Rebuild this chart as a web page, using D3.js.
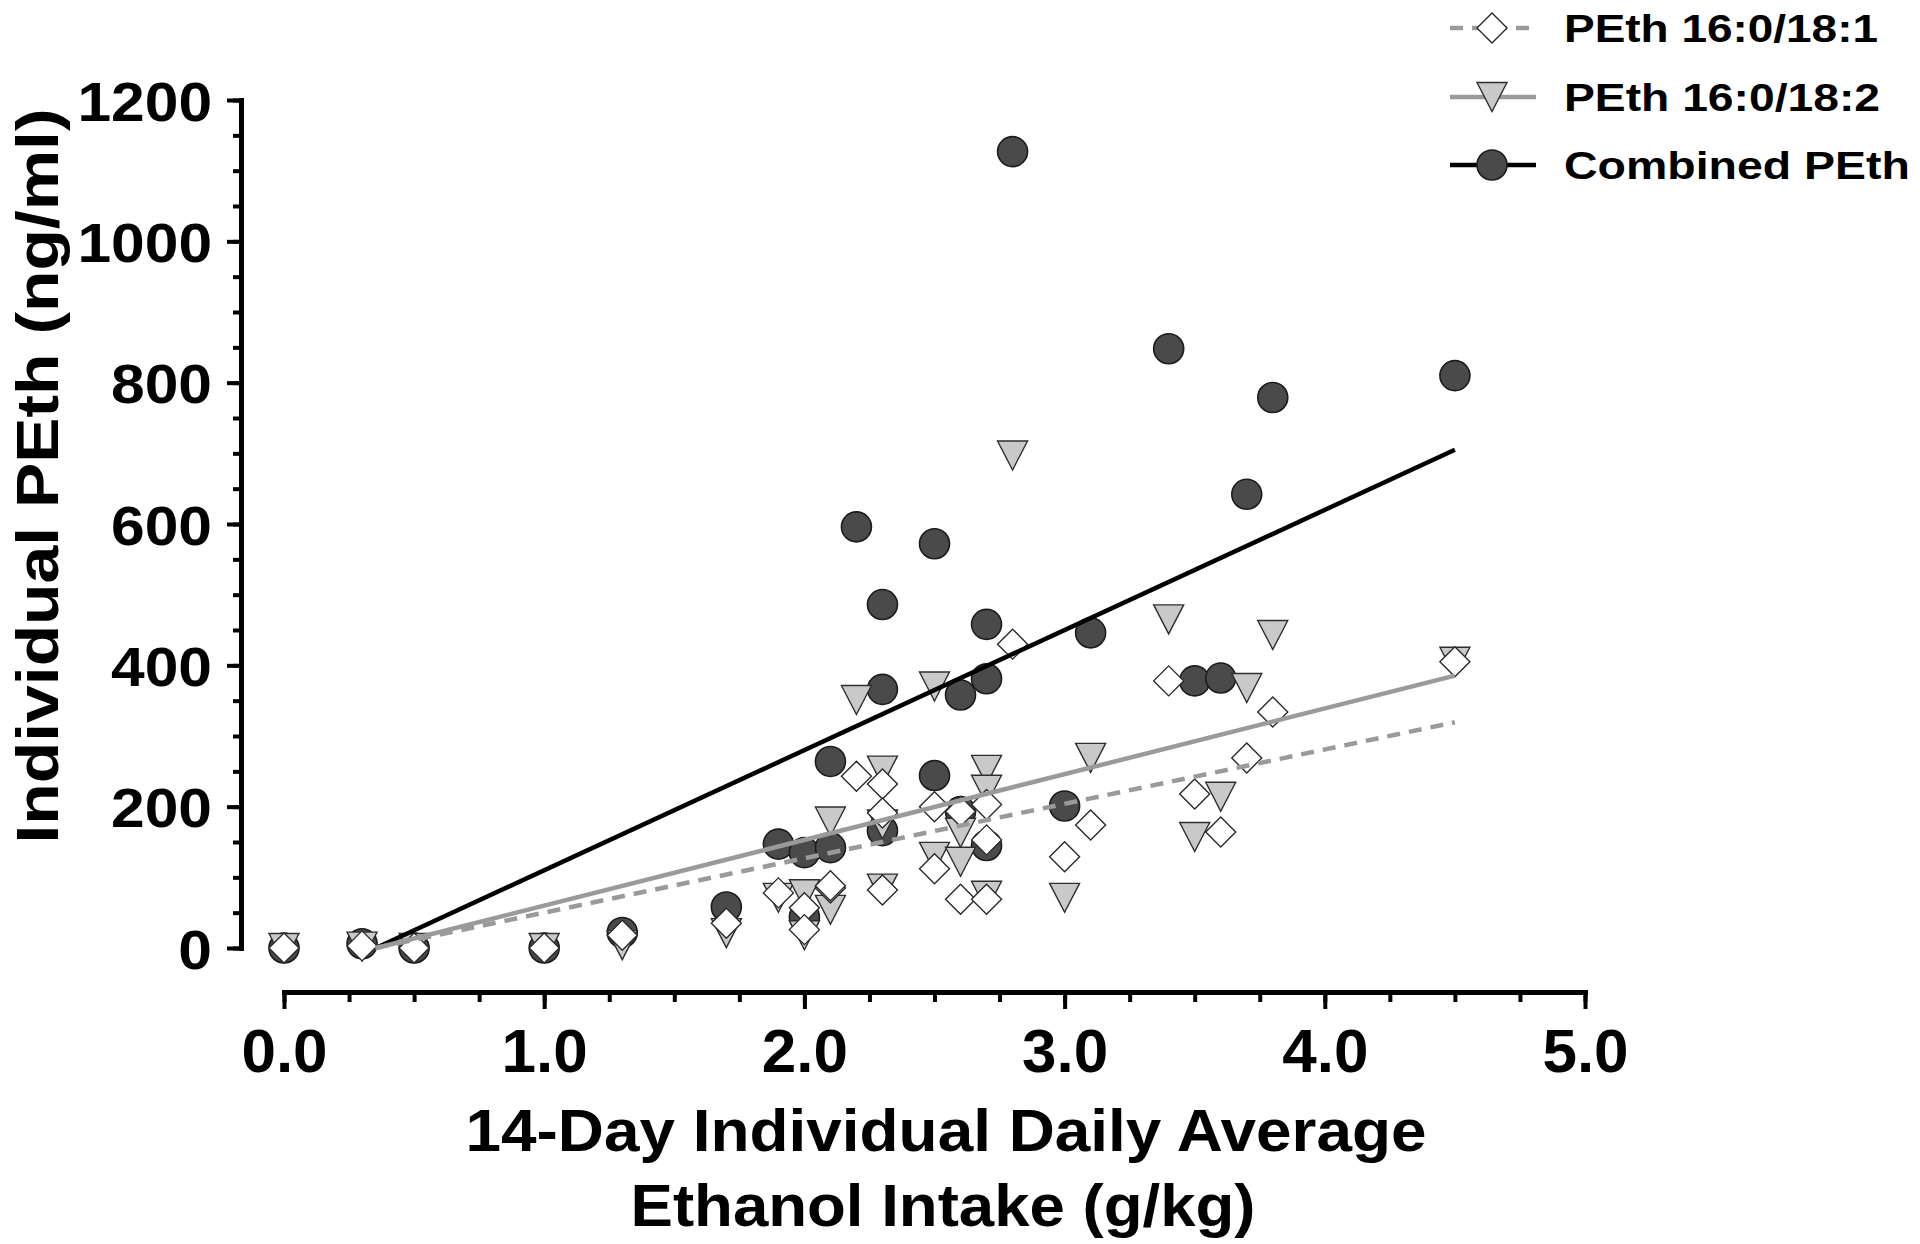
<!DOCTYPE html>
<html><head><meta charset="utf-8">
<script src="https://cdn.jsdelivr.net/npm/d3@7"></script>
<style>html,body{margin:0;padding:0;background:#fff;} svg{display:block;font-family:"Liberation Sans",Arial,sans-serif;font-weight:bold;}</style>
</head><body>
<svg id="chart" width="1920" height="1244"></svg>
<script>
// ---- data ----
const intake   = [0.0, 0.3, 0.5, 1.0, 1.3, 1.7, 1.9, 2.0, 2.0, 2.1, 2.1, 2.2, 2.3, 2.3, 2.3, 2.5, 2.5, 2.6, 2.6, 2.7, 2.7, 2.7, 2.8, 3.0, 3.1, 3.4, 3.5, 3.6, 3.7, 3.8, 4.5];
const peth181  = [0, 3, 0, 0, 18, 35, 78, 57, 26, 85, 88, 243, 232, 191, 82, 200, 112, 193, 69, 203, 153, 69, 430, 129, 174, 378, 218, 164, 269, 334, 405];
const peth182  = [0, 2, 0, 0, 4, 21, 71, 76, 18, 179, 54, 351, 251, 175, 84, 370, 129, 163, 122, 252, 224, 74, 697, 71, 269, 465, 157, 214, 368, 443, 405];
const combined = [0, 6, 0, 0, 22, 58, 147, 135, 44, 264, 142, 596, 486, 366, 166, 572, 244, 358, 193, 458, 381, 145, 1127, 201, 446, 848, 378, 382, 642, 779, 810];

const seriesNames  = ["PEth 16:0/18:1", "PEth 16:0/18:2", "Combined PEth"];
const fitSlope     = [77, 93, 170];
const fitIntercept = [-27, -33, -60];

const xTickValues = [0, 1, 2, 3, 4, 5];
const xTickLabels = ["0.0", "1.0", "2.0", "3.0", "4.0", "5.0"];
const xMinorValues = d3.range(0, 5.001, 0.25);
const yTickValues = [0, 200, 400, 600, 800, 1000, 1200];
const yTickLabels = ["0", "200", "400", "600", "800", "1000", "1200"];
const yMinorValues = d3.range(0, 1200.1, 50);

const xTitleLines = ["14-Day Individual Daily Average", "Ethanol Intake (g/kg)"];
const yTitle = "Individual PEth (ng/ml)";

// ---- drawing ----
const svg = d3.select("#chart");
const x = d3.scaleLinear().domain([0, 5]).range([284, 1585]);
const y = d3.scaleLinear().domain([0, 1200]).range([948, 100]);

const sym = {
  circle: "M15,0A15,15 0 1,1 -15,0A15,15 0 1,1 15,0Z",
  diamond: "M0,-15L15,0L0,15L-15,0Z",
  triangle: "M-15,-14.5L15,-14.5L0,14.5Z"
};
const styles = [
  {shape: "diamond", fill: "#ffffff", stroke: "#2a2a2a", sw: 1.4, line: "#9a9a9a", dash: "13,9"},
  {shape: "triangle", fill: "#c9c9c9", stroke: "#2e2e2e", sw: 1.4, line: "#9a9a9a", dash: null},
  {shape: "circle", fill: "#4a4a4a", stroke: "#1c1c1c", sw: 1.6, line: "#000000", dash: null}
];
const seriesValues = [peth181, peth182, combined];

// X axis
const xAxisG = svg.append("g").attr("transform", "translate(0,992)");
xAxisG.append("g").call(d3.axisBottom(x).tickValues(xMinorValues).tickSize(10).tickSizeOuter(0).tickFormat(""))
  .call(g => g.select(".domain").remove());
xAxisG.append("g").call(d3.axisBottom(x).tickValues(xTickValues).tickSize(17).tickSizeOuter(0).tickPadding(19)
    .tickFormat((d, i) => xTickLabels[i]))
  .call(g => g.selectAll("text").attr("font-size", 62).attr("font-family", "'Liberation Sans',Arial,sans-serif").attr("font-weight", "bold").attr("fill", "#000"));
xAxisG.selectAll("line").attr("stroke", "#000").attr("stroke-width", 4);
xAxisG.selectAll(".domain").attr("stroke", "#000").attr("stroke-width", 5).attr("stroke-linecap", "square");

// Y axis
const yAxisG = svg.append("g").attr("transform", "translate(241,0)");
yAxisG.append("g").call(d3.axisLeft(y).tickValues(yMinorValues).tickSize(8).tickSizeOuter(0).tickFormat(""))
  .call(g => g.select(".domain").remove());
yAxisG.append("g").call(d3.axisLeft(y).tickValues(yTickValues).tickSize(14).tickSizeOuter(0).tickPadding(15)
    .tickFormat((d, i) => yTickLabels[i]))
  .call(g => g.selectAll("text").attr("font-size", 56).attr("font-family", "'Liberation Sans',Arial,sans-serif").attr("font-weight", "bold").attr("fill", "#000").attr("dy", "0.36em")
    .each(function() { const w = this.getComputedTextLength(); d3.select(this).attr("textLength", w * 1.08).attr("lengthAdjust", "spacingAndGlyphs"); }));
yAxisG.selectAll("line").attr("stroke", "#000").attr("stroke-width", 4);
yAxisG.selectAll(".domain").attr("stroke", "#000").attr("stroke-width", 5).attr("stroke-linecap", "square");

// Titles
svg.append("text").attr("x", 946).attr("y", 1151).attr("text-anchor", "middle").attr("font-size", 60)
  .attr("textLength", 961).attr("lengthAdjust", "spacingAndGlyphs").text(xTitleLines[0]);
svg.append("text").attr("x", 943).attr("y", 1226).attr("text-anchor", "middle").attr("font-size", 60)
  .attr("textLength", 625).attr("lengthAdjust", "spacingAndGlyphs").text(xTitleLines[1]);
svg.append("text").attr("transform", "translate(58,476) rotate(-90)").attr("text-anchor", "middle").attr("font-size", 59)
  .attr("textLength", 735).attr("lengthAdjust", "spacingAndGlyphs").text(yTitle);

// Markers: combined at back, then 18:2, then 18:1 in front
const plotG = svg.append("g");
[2, 1, 0].forEach(si => {
  const st = styles[si];
  plotG.append("g").selectAll("path").data(intake.map((v, i) => [v, seriesValues[si][i]]))
    .join("path")
    .attr("transform", d => `translate(${x(d[0])},${y(d[1])})`)
    .attr("d", sym[st.shape])
    .attr("fill", st.fill).attr("stroke", st.stroke).attr("stroke-width", st.sw);
});

// Regression lines (clipped at y = 0)
const line = d3.line().x(d => x(d[0])).y(d => y(d[1]));
const xMax = d3.max(intake);
[2, 1, 0].forEach(si => {
  const st = styles[si];
  const x0 = Math.max(d3.min(intake), -fitIntercept[si] / fitSlope[si]);
  const pts = [[x0, fitIntercept[si] + fitSlope[si] * x0], [xMax, fitIntercept[si] + fitSlope[si] * xMax]];
  plotG.append("path").attr("d", line(pts)).attr("fill", "none").attr("stroke", st.line)
    .attr("stroke-width", 4.5).attr("stroke-dasharray", st.dash);
});

// Legend
const legRowY = [28, 97, 165];
const legTextLen = [314, 316, 346];
const leg = svg.append("g");
seriesNames.forEach((name, i) => {
  const st = styles[i];
  const g = leg.append("g").attr("transform", `translate(0,${legRowY[i]})`);
  g.append("line").attr("x1", 1450).attr("x2", 1536).attr("y1", 0).attr("y2", 0)
    .attr("stroke", st.line).attr("stroke-width", 4.5).attr("stroke-dasharray", st.dash);
  g.append("path").attr("transform", "translate(1492,0)").attr("d", sym[st.shape])
    .attr("fill", st.fill).attr("stroke", st.stroke).attr("stroke-width", st.sw);
  g.append("text").attr("x", 1564).attr("y", 14).attr("font-size", 39)
    .attr("textLength", legTextLen[i]).attr("lengthAdjust", "spacingAndGlyphs").text(name);
});
</script>
</body></html>
